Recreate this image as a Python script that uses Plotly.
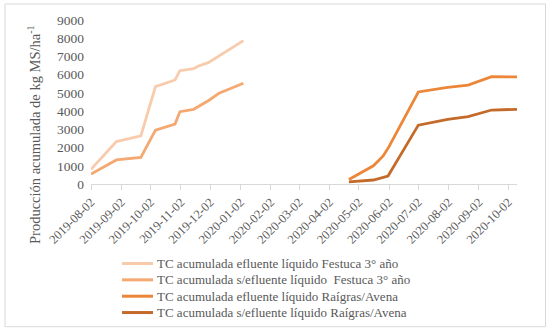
import plotly.graph_objects as go

# ---- data ----
fest_ef_dates = ["2019-08-02", "2019-08-28", "2019-09-22", "2019-10-07", "2019-10-27",
                 "2019-11-01", "2019-11-15", "2019-11-20", "2019-11-30", "2020-01-05"]
fest_ef_vals = [800, 2330, 2640, 5340, 5710, 6220, 6330, 6480, 6660, 7870]

fest_sef_dates = ["2019-08-02", "2019-08-28", "2019-09-22", "2019-10-07", "2019-10-27",
                  "2019-11-01", "2019-11-15", "2019-11-30", "2019-12-11", "2020-01-05"]
fest_sef_vals = [550, 1320, 1460, 2960, 3290, 3970, 4100, 4570, 4980, 5530]

rai_ef_dates = ["2020-04-22", "2020-05-17", "2020-05-27", "2020-06-02", "2020-07-02",
                "2020-08-01", "2020-08-22", "2020-09-15", "2020-10-11"]
rai_ef_vals = [250, 1000, 1540, 2050, 5050, 5300, 5430, 5890, 5880]

rai_sef_dates = ["2020-04-22", "2020-05-17", "2020-06-01", "2020-07-02",
                 "2020-08-01", "2020-08-22", "2020-09-15", "2020-10-11"]
rai_sef_vals = [120, 220, 440, 3230, 3550, 3700, 4060, 4100]

series_names = [
    "TC acumulada efluente líquido Festuca 3° año",
    "TC acumulada s/efluente líquido\u00a0 Festuca 3° año",
    "TC acumulada efluente líquido Raígras/Avena",
    "TC acumulada s/efluente líquido Raígras/Avena",
]
colors = ["#F8CBAD", "#F4A872", "#EC8638", "#C46A2B"]

x_range = ["2019-08-02", "2020-10-11"]
y_range = [0, 9000]
y_title = "Producción acumulada de kg MS/ha<sup>-1</sup>"

# ---- layout geometry ----
W, H = 551, 333
L, R, T, B = 91, 34, 20, 149
pw, ph = W - L - R, H - T - B


def px(xp):
    return (xp - L) / pw


def py(yp):
    return (H - B - yp) / ph


FONT = "Liberation Serif, Times New Roman, serif"
GRAY = "#595959"

fig = go.Figure()
for d, v, n, c in zip(
    [fest_ef_dates, fest_sef_dates, rai_ef_dates, rai_sef_dates],
    [fest_ef_vals, fest_sef_vals, rai_ef_vals, rai_sef_vals],
    series_names, colors,
):
    fig.add_trace(go.Scatter(x=d, y=v, mode="lines", name=n, showlegend=False,
                             line=dict(color=c, width=2.8)))

# legend drawn as line samples + text (compact Excel-like spacing)
annotations = [dict(text=y_title, x=px(34), y=py(135), xref="paper", yref="paper",
                    showarrow=False, textangle=-90, xanchor="center", yanchor="middle",
                    font=dict(family=FONT, size=14.5, color=GRAY))]
shapes = [dict(type="rect", xref="paper", yref="paper",
               x0=px(5), x1=px(545.5), y0=py(326.7), y1=py(4),
               line=dict(color="#D9D9D9", width=1), fillcolor="rgba(0,0,0,0)")]
row0, gap = 263.5, 16.35
for i, (n, c) in enumerate(zip(series_names, colors)):
    yy = py(row0 + i * gap)
    shapes.append(dict(type="line", xref="paper", yref="paper",
                       x0=px(122), x1=px(153), y0=yy, y1=yy,
                       line=dict(color=c, width=3)))
    annotations.append(dict(text=n, x=px(154.5), y=yy, xref="paper", yref="paper",
                            showarrow=False, xanchor="left", yanchor="middle",
                            font=dict(family=FONT, size=13, color=GRAY)))

fig.update_layout(
    width=W, height=H,
    margin=dict(l=L, r=R, t=T, b=B, autoexpand=False),
    paper_bgcolor="white", plot_bgcolor="white",
    font=dict(family=FONT, color=GRAY, size=13.5),
    showlegend=False,
    xaxis=dict(type="date", range=x_range, tick0="2019-08-02", dtick="M1",
               tickformat="%Y-%m-%d", tickangle=-45,
               showline=True, linecolor="#D9D9D9", linewidth=1,
               ticks="outside", ticklen=5, tickcolor="#D9D9D9",
               showgrid=False, zeroline=False, automargin=False,
               tickfont=dict(family=FONT, size=12.5, color=GRAY)),
    yaxis=dict(range=y_range, dtick=1000, showline=False, showgrid=False,
               zeroline=False, ticks="", automargin=False,
               tickfont=dict(family=FONT, size=13.5, color=GRAY),
               ticklabelstandoff=6),
    annotations=annotations,
    shapes=shapes,
)

fig.write_html("out.html")
